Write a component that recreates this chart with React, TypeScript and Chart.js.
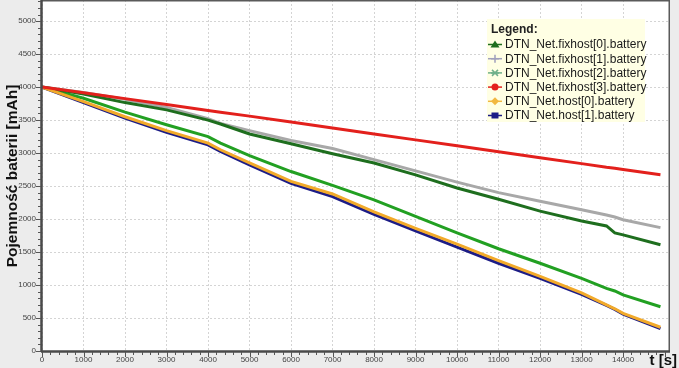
import React, { useEffect, useRef } from 'react';
import { Chart, registerables } from 'chart.js';

Chart.register(...registerables);

// time samples [s]
const times = [0, 1000, 2000, 3000, 4000, 4300, 5000, 6000, 7000, 8000, 9000, 10000, 11000, 12000, 13000, 13600, 13800, 14000, 14900];

// battery capacity [mAh]
const fixhost0 = [4000, 3895, 3765, 3655, 3500, 3440, 3290, 3140, 2990, 2850, 2670, 2470, 2300, 2120, 1970, 1895, 1790, 1760, 1610];
const fixhost1 = [4000, 3920, 3815, 3690, 3520, 3450, 3340, 3190, 3070, 2900, 2730, 2560, 2400, 2270, 2140, 2060, 2030, 1990, 1870];
const fixhost2 = [4000, 3830, 3620, 3430, 3250, 3150, 2960, 2720, 2510, 2290, 2040, 1790, 1550, 1330, 1100, 950, 910, 850, 670];
const fixhost3 = [4000, 3915, 3825, 3735, 3645, 3620, 3560, 3470, 3380, 3290, 3200, 3110, 3020, 2930, 2840, 2785, 2770, 2750, 2670];
const host0 = [4000, 3780, 3550, 3340, 3150, 3050, 2850, 2570, 2380, 2110, 1860, 1620, 1370, 1130, 880, 700, 640, 570, 360];
const host1 = [4000, 3765, 3530, 3315, 3125, 3025, 2820, 2540, 2340, 2070, 1820, 1575, 1330, 1100, 860, 690, 630, 560, 340];

const seriesNames = [
  'DTN_Net.fixhost[0].battery',
  'DTN_Net.fixhost[1].battery',
  'DTN_Net.fixhost[2].battery',
  'DTN_Net.fixhost[3].battery',
  'DTN_Net.host[0].battery',
  'DTN_Net.host[1].battery',
];

const xTickValues = [0, 1000, 2000, 3000, 4000, 5000, 6000, 7000, 8000, 9000, 10000, 11000, 12000, 13000, 14000];
const yTickValues = [0, 500, 1000, 1500, 2000, 2500, 3000, 3500, 4000, 4500, 5000];

const yTitle = 'Pojemność baterii [mAh]';
const xTitle = 't [s]';
const legendTitle = 'Legend:';

const colors = ['#1e6e1e', '#a8a8a8', '#22a022', '#e3201c', '#f2aa2a', '#1c1c86'];
const markerColors = ['#1e6e1e', '#a0a0bc', '#6fb08a', '#e3201c', '#f2b840', '#1c1c86'];
const markers = ['triangle', 'plus', 'star', 'circle', 'diamond', 'square'];
const orders = [3, 3, 3, 0, 1, 2];

const FONT = '"Liberation Sans", Arial, sans-serif';

function drawMarker(ctx: CanvasRenderingContext2D, type: string, x: number, y: number, color: string) {
  ctx.save();
  ctx.fillStyle = color;
  ctx.strokeStyle = color;
  ctx.lineWidth = 1.5;
  ctx.beginPath();
  if (type === 'triangle') {
    ctx.moveTo(x, y - 4);
    ctx.lineTo(x + 4.5, y + 3);
    ctx.lineTo(x - 4.5, y + 3);
    ctx.closePath();
    ctx.fill();
  } else if (type === 'plus') {
    ctx.moveTo(x - 4, y); ctx.lineTo(x + 4, y);
    ctx.moveTo(x, y - 4); ctx.lineTo(x, y + 4);
    ctx.stroke();
  } else if (type === 'star') {
    ctx.moveTo(x - 4, y); ctx.lineTo(x + 4, y);
    ctx.moveTo(x - 3, y - 3); ctx.lineTo(x + 3, y + 3);
    ctx.moveTo(x + 3, y - 3); ctx.lineTo(x - 3, y + 3);
    ctx.stroke();
  } else if (type === 'circle') {
    ctx.arc(x, y, 3.5, 0, Math.PI * 2);
    ctx.fill();
  } else if (type === 'diamond') {
    ctx.moveTo(x, y - 4); ctx.lineTo(x + 4, y); ctx.lineTo(x, y + 4); ctx.lineTo(x - 4, y);
    ctx.closePath();
    ctx.fill();
  } else {
    ctx.rect(x - 3.5, y - 3, 7, 6);
    ctx.fill();
  }
  ctx.restore();
}

const decorPlugin = {
  id: 'decor',
  beforeDraw(chart: any) {
    const { ctx, chartArea: a, width, height } = chart;
    ctx.save();
    ctx.fillStyle = '#ececec';
    ctx.fillRect(0, 0, width, height);
    ctx.fillStyle = '#ffffff';
    ctx.fillRect(a.left, a.top, a.right - a.left, a.bottom - a.top);
    ctx.restore();
  },
  afterDraw(chart: any) {
    const { ctx, chartArea: a } = chart;
    const xs = chart.scales.x;
    const ys = chart.scales.y;
    ctx.save();
    // frame
    ctx.strokeStyle = '#5a5a5a';
    ctx.lineWidth = 1.5;
    ctx.beginPath();
    ctx.moveTo(a.left, a.top + 0.75);
    ctx.lineTo(a.right, a.top + 0.75);
    ctx.moveTo(a.right - 0.75, a.top);
    ctx.lineTo(a.right - 0.75, a.bottom);
    ctx.stroke();
    ctx.lineWidth = 2.5;
    ctx.strokeStyle = '#4a4a4a';
    ctx.beginPath();
    ctx.moveTo(a.left - 0.5, a.top);
    ctx.lineTo(a.left - 0.5, a.bottom + 1);
    ctx.moveTo(a.left - 1, a.bottom + 0.5);
    ctx.lineTo(a.right, a.bottom + 0.5);
    ctx.stroke();
    // minor ticks
    ctx.lineWidth = 1;
    ctx.strokeStyle = '#555';
    ctx.beginPath();
    for (let v = 0; v <= ys.max; v += 100) {
      const py = Math.round(ys.getPixelForValue(v)) + 0.5;
      const len = v % 500 === 0 ? 5 : 3;
      ctx.moveTo(a.left - 1 - len, py);
      ctx.lineTo(a.left - 1, py);
    }
    for (let v = 0; v <= xs.max; v += 200) {
      const px = Math.round(xs.getPixelForValue(v)) + 0.5;
      const len = v % 1000 === 0 ? 5 : 3;
      ctx.moveTo(px, a.bottom + 1);
      ctx.lineTo(px, a.bottom + 1 + len);
    }
    ctx.stroke();

    // y title
    ctx.save();
    ctx.translate(13, 176);
    ctx.rotate(-Math.PI / 2);
    ctx.font = 'bold 15.5px ' + FONT;
    ctx.fillStyle = '#111';
    ctx.textAlign = 'center';
    ctx.textBaseline = 'middle';
    ctx.fillText(yTitle, 0, 0);
    ctx.restore();

    // x title
    ctx.font = 'bold 15px ' + FONT;
    ctx.fillStyle = '#111';
    ctx.textAlign = 'right';
    ctx.textBaseline = 'alphabetic';
    ctx.fillText(xTitle, 677, 365);

    // legend
    const lx = 487, ly = 19, lw = 158, lh = 103;
    ctx.fillStyle = '#ffffe4';
    ctx.fillRect(lx, ly, lw, lh);
    ctx.fillStyle = '#222';
    ctx.font = 'bold 12px ' + FONT;
    ctx.textAlign = 'left';
    ctx.textBaseline = 'middle';
    ctx.fillText(legendTitle, 491, 30);
    ctx.font = '12px ' + FONT;
    chart.data.datasets.forEach((ds: any, i: number) => {
      const y = 44.5 + i * 14.2;
      ctx.strokeStyle = markerColors[i];
      ctx.lineWidth = 1.5;
      ctx.beginPath();
      ctx.moveTo(488, y);
      ctx.lineTo(502, y);
      ctx.stroke();
      drawMarker(ctx, markers[i], 495, y, markerColors[i]);
      ctx.fillStyle = '#1a1a1a';
      ctx.fillText(ds.label, 505, y + 0.5);
    });
    ctx.restore();
  },
};

export default function App() {
  const ref = useRef<HTMLCanvasElement | null>(null);
  useEffect(() => {
    document.body.style.margin = '0';
    const all = [fixhost0, fixhost1, fixhost2, fixhost3, host0, host1];
    const chart = new Chart(ref.current!, {
      type: 'line',
      data: {
        datasets: all.map((arr, i) => ({
          label: seriesNames[i],
          data: arr.map((v, j) => ({ x: times[j], y: v })),
          borderColor: colors[i],
          backgroundColor: colors[i],
          borderWidth: 3,
          pointRadius: 0,
          tension: 0,
          order: orders[i],
        })),
      },
      options: {
        animation: false,
        responsive: false,
        maintainAspectRatio: false,
        layout: { padding: { top: 0, right: 9, left: 0, bottom: 0 } },
        plugins: { legend: { display: false }, tooltip: { enabled: false } },
        scales: {
          x: {
            type: 'linear',
            min: 0,
            max: 15130,
            afterBuildTicks: (s: any) => { s.ticks = xTickValues.map((v) => ({ value: v })); },
            afterFit: (s: any) => { s.height = 17; s.paddingLeft = 0; s.paddingRight = 0; },
            grid: { color: '#d4d4d4', lineWidth: 1, drawTicks: false },
            border: { display: false, dash: [2, 2] },
            ticks: { font: { size: 8, family: FONT }, color: '#444', padding: 4, maxRotation: 0, autoSkip: false, callback: (v: any) => String(v) },
          },
          y: {
            type: 'linear',
            min: 0,
            max: 5320,
            afterBuildTicks: (s: any) => { s.ticks = yTickValues.map((v) => ({ value: v })); },
            afterFit: (s: any) => { s.width = 42; s.paddingTop = 0; s.paddingBottom = 0; },
            grid: { color: '#d4d4d4', lineWidth: 1, drawTicks: false },
            border: { display: false, dash: [2, 2] },
            ticks: { font: { size: 8, family: FONT }, color: '#444', padding: 6, autoSkip: false, callback: (v: any) => String(v) },
          },
        },
      },
      plugins: [decorPlugin],
    });
    return () => chart.destroy();
  }, []);
  return <canvas ref={ref} width={679} height={368} style={{ display: 'block' }} />;
}
